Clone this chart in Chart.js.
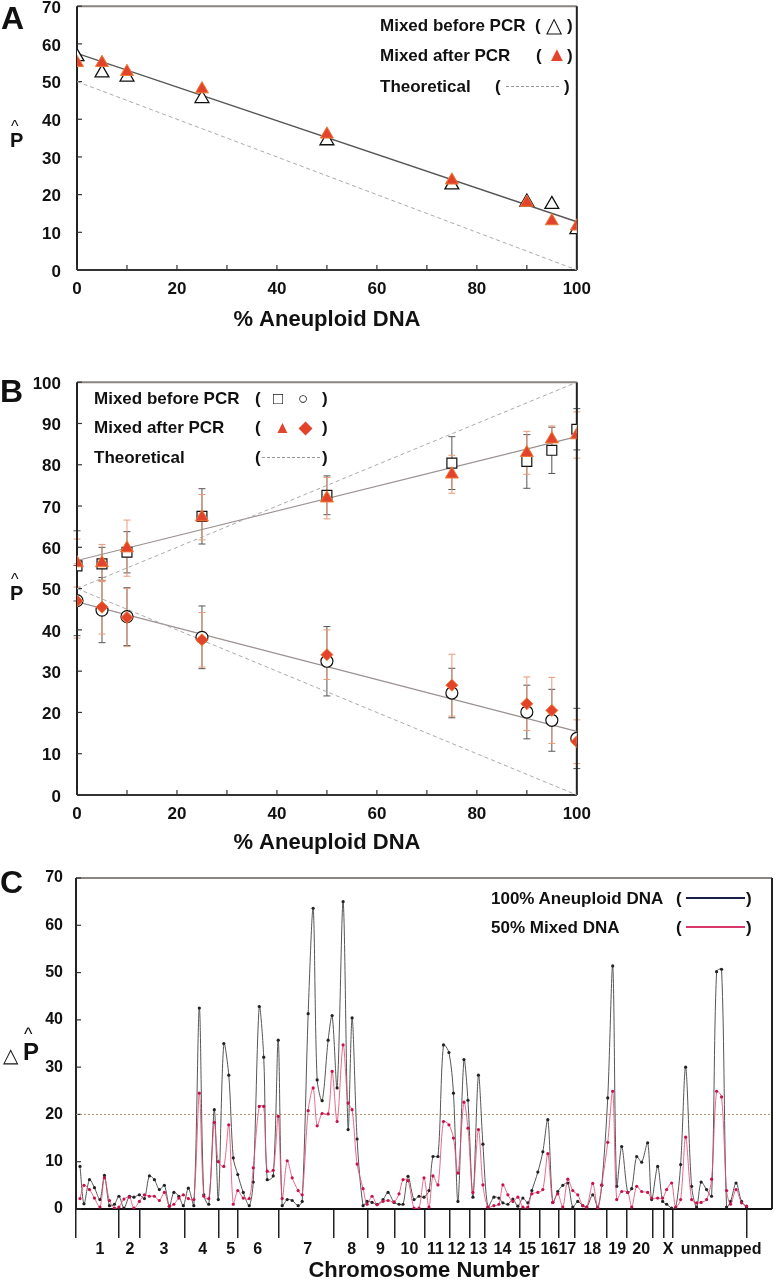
<!DOCTYPE html>
<html lang="en">
<head>
<meta charset="UTF-8">
<title>Aneuploid DNA</title>
<script src="https://cdn.jsdelivr.net/npm/chart.js@4"></script>
<style>
  body { margin: 0; background: #fff; overflow: hidden; }
  #page { position: relative; width: 776px; height: 1280px; overflow: hidden; }
  .box { position: absolute; }
  .t { position: absolute; font: bold 17px 'Liberation Sans', Arial, sans-serif; line-height: 1;
       transform: translateY(-50%); white-space: nowrap; color: #111; }
  .letter { font-size: 32px; }
  .red { color: #e4432b; }
  .dash { position: absolute; height: 0; border-top: 1px dashed #999; }
  .solid { position: absolute; height: 2px; margin-top: -1px; }
</style>
</head>
<body>
<div id="page">
  <div class="box" style="left:0;top:-20px"><canvas id="chartA" width="600" height="360"></canvas></div>
  <div class="box" style="left:0;top:356px"><canvas id="chartB" width="600" height="507"></canvas></div>
  <div class="box" style="left:0;top:853px"><canvas id="chartC" width="776" height="431"></canvas></div>

  <!-- panel letters and axis labels -->
  <div class="t letter" style="left:1px;top:18px">A</div>
  <div class="t letter" style="left:0;top:391px">B</div>
  <div class="t letter" style="left:0;top:882px">C</div>

  <div class="t" style="left:11px;top:127px;font-size:16px;font-weight:normal">^</div>
  <div class="t" style="left:10px;top:140px;font-size:20px">P</div>
  <div class="t" style="left:11px;top:580px;font-size:16px;font-weight:normal">^</div>
  <div class="t" style="left:10px;top:593px;font-size:20px">P</div>
  <div class="t" style="left:3px;top:1055px;font-size:20px;font-weight:normal">△</div>
  <div class="t" style="left:24px;top:1034px;font-size:18px;font-weight:normal">^</div>
  <div class="t" style="left:23px;top:1052px;font-size:24px">P</div>

  <!-- legend A -->
  <div class="t" style="left:380px;top:25px">Mixed before PCR</div>
  <div class="t" style="left:535px;top:25px">(</div>
  <div class="t" style="left:546px;top:24px;font-size:21px;font-weight:normal">△</div>
  <div class="t" style="left:567px;top:25px">)</div>
  <div class="t" style="left:380px;top:55px">Mixed after PCR</div>
  <div class="t" style="left:536px;top:55px">(</div>
  <div class="t red" style="left:547px;top:54px;font-size:20px">▲</div>
  <div class="t" style="left:567px;top:55px">)</div>
  <div class="t" style="left:380px;top:86px">Theoretical</div>
  <div class="t" style="left:495px;top:86px">(</div>
  <div class="dash" style="left:506px;width:53px;top:86px"></div>
  <div class="t" style="left:564px;top:86px">)</div>

  <!-- legend B -->
  <div class="t" style="left:94px;top:398px">Mixed before PCR</div>
  <div class="t" style="left:255px;top:398px">(</div>
  <div class="t" style="left:273px;top:398px;font-weight:normal">□</div>
  <div class="t" style="left:298px;top:398px;font-weight:normal">○</div>
  <div class="t" style="left:322px;top:398px">)</div>
  <div class="t" style="left:94px;top:427px">Mixed after PCR</div>
  <div class="t" style="left:255px;top:427px">(</div>
  <div class="t red" style="left:274px;top:427px">▲</div>
  <div class="t red" style="left:299px;top:427px">◆</div>
  <div class="t" style="left:322px;top:427px">)</div>
  <div class="t" style="left:94px;top:457px">Theoretical</div>
  <div class="t" style="left:255px;top:457px">(</div>
  <div class="dash" style="left:262px;width:58px;top:457px"></div>
  <div class="t" style="left:322px;top:457px">)</div>

  <!-- legend C -->
  <div class="t" style="left:491px;top:898px">100% Aneuploid DNA</div>
  <div class="t" style="left:676px;top:898px">(</div>
  <div class="solid" style="left:686px;width:59px;top:898px;background:#1a1f4a"></div>
  <div class="t" style="left:746px;top:898px">)</div>
  <div class="t" style="left:491px;top:927px">50% Mixed DNA</div>
  <div class="t" style="left:676px;top:927px">(</div>
  <div class="solid" style="left:686px;width:59px;top:927px;background:#d8386a"></div>
  <div class="t" style="left:746px;top:927px">)</div>
</div>

<script>
// ---- panel A ----
const pctAneuploid = [0, 5, 10, 25, 50, 75, 90, 95, 100];
const aBefore = [56.6, 52.3, 51.2, 45.5, 34.3, 22.6, 18.0, 17.4, 10.7];
const aAfter  = [55.0, 55.0, 52.6, 48.0, 36.0, 23.8, 17.9, 13.0, 11.6];
const aFitEnds = [57.5, 12.8];      // fitted line at 0% and 100%
const theoEnds = [50, 0];           // theoretical line at 0% and 100%

// ---- panel B ----
const bSquare  = [55.5, 56.0, 58.8, 67.5, 72.6, 80.4, 80.8, 83.5, 88.6];
const bSquareErr = [8.5, 4.0, 5.0, 6.7, 4.7, 6.4, 6.5, 5.6, 5.0];
const bTriangle = [56.2, 56.2, 59.8, 67.3, 71.9, 77.7, 82.9, 86.2, 87.2];
const bTriangleErr = [5.8, 4.5, 6.8, 5.5, 5.0, 4.6, 5.2, 3.2, 5.6];
const bCircle  = [47.1, 44.8, 43.2, 38.2, 32.4, 24.7, 20.1, 18.1, 13.7];
const bCircleErr = [8.5, 7.9, 7.0, 7.6, 8.4, 6.0, 6.5, 7.5, 7.3];
const bDiamond = [47.0, 45.5, 43.0, 37.6, 34.0, 26.6, 22.1, 20.5, 12.9];
const bDiamondErr = [9.0, 6.5, 7.0, 6.6, 6.0, 7.5, 6.5, 8.0, 5.3];
const bUpFitEnds = [56.8, 86.8];
const bLowFitEnds = [46.8, 15.4];
const bTheoUpEnds = [50, 100];
const bTheoLowEnds = [50, 0];

// ---- panel C ----
const markerPos = [0.8,1.6,2.7,3.7,4.8,5.7,6.7,7.7,8.6,9.6,
  10.7,11.6,12.7,13.7,14.7,15.7,16.7,17.7,18.7,19.6,
  20.6,21.5,22.5,23.6,24.7,25.6,26.6,27.7,28.5,29.6,
  30.6,31.5,32.4,33.5,34.7,35.5,36.7,37.6,38.3,39.5,
  40.5,41.3,42.3,43.3,44.5,45.3,46.5,47.5,48.3,49.3,
  50.5,51.3,52.3,53.5,54.5,55.3,56.3,57.5,58.3,59.3,
  60.3,61.5,62.5,63.7,64.7,65.5,66.5,67.7,68.7,69.7,
  70.7,71.5,72.5,73.6,74.7,75.6,76.5,77.7,78.5,79.5,
  80.6,81.5,82.5,83.7,84.7,85.5,86.5,87.5,88.5,89.5,
  90.5,91.3,92.5,93.5,94.5,95.5,96.5,97.5,98.5,99.5,
  100.5,101.5,102.3,103.5,104.5,105.3,106.5,107.5,108.3,109.3,
  110.5,111.3,112.3,113.3,114.5,115.3,116.5,117.5,118.3,119.3,
  120.1,121.1,122.1,123.3,124.3,125.2,126.3,127.3,128.3,129.3,
  130.3,131.1,132.2,133.3,134.3];
const aneuploid100 = [9.0,1.1,6.2,4.5,2.0,7.1,0.7,1.0,2.7,0.2,
  2.7,2.5,3.0,2.2,7.0,6.2,4.1,5.0,0.6,3.5,
  2.7,0.7,4.4,0.7,42.5,3.0,1.0,21.0,2.0,35.0,
  28.3,10.8,7.3,3.5,0.7,5.7,42.8,32.1,6.2,7.0,
  35.7,0.7,2.0,1.8,0.7,1.6,41.3,63.6,27.3,22.9,
  35.7,40.9,25.6,65.0,16.8,40.4,14.8,0.7,1.6,1.4,
  1.0,2.0,3.5,1.4,1.0,1.0,6.9,2.0,2.7,2.5,
  3.9,11.1,11.1,34.7,33.1,24.5,1.6,31.6,23.0,2.5,
  28.3,13.7,0.4,2.5,2.3,1.3,1.0,2.1,0.6,2.3,
  1.3,3.9,7.8,12.1,18.9,1.4,3.7,5.0,5.5,0.4,
  1.6,0.7,0.4,3.0,0.4,5.0,23.5,51.4,4.8,13.2,
  3.5,4.3,11.1,9.9,14.0,2.0,9.0,1.6,1.0,0.2,
  0.2,9.4,30.0,4.8,0.4,5.7,4.1,2.7,50.2,50.7,
  0.4,1.6,5.5,1.6,0.4];
const mixed50 = [2.2,5.0,4.1,2.3,0.4,6.6,1.8,0.2,0.4,2.1,
  2.5,0.2,1.6,3.0,2.7,2.7,1.8,3.5,0.6,1.0,
  2.3,3.0,2.2,2.0,24.5,2.7,2.2,18.3,10.0,9.0,
  17.8,1.0,3.9,2.3,2.2,8.7,21.7,21.7,8.0,8.2,
  19.6,2.2,10.2,6.6,3.9,3.0,20.8,25.6,17.6,20.2,
  20.1,29.1,18.5,34.7,22.4,21.0,9.5,4.3,1.0,2.7,
  0.9,1.6,1.8,1.5,3.2,6.2,6.0,0.2,0.2,6.6,
  0.4,7.0,5.1,18.5,17.8,15.0,7.6,22.6,17.1,3.5,
  16.8,5.1,0.4,0.7,1.0,5.1,3.0,1.6,2.5,0.4,
  0.4,3.2,3.5,4.1,11.7,1.4,3.2,0.4,6.3,3.9,
  3.0,0.7,0.4,5.4,0.2,5.1,14.1,24.9,2.0,3.7,
  3.5,0.4,4.8,3.7,3.5,2.3,2.3,2.3,4.1,5.5,
  0.4,2.0,15.2,2.0,1.3,1.4,2.0,6.3,24.9,23.7,
  3.9,1.0,4.1,1.3,0.6];
const chromBounds = [0,8.6,12.8,21.8,28.6,32.4,40.6,51.6,58.4,63.8,69.8,74.8,78.8,81.8,
  88.8,92.8,96.6,99.8,106.4,110.4,115.6,117.8,119.6,134.4];
const chromLabels = ['1','2','3','4','5','6','7','8','9','10','11','12','13','14','15','16',
  '17','18','19','20','X','unmapped'];
const chromLabelPos = [4.8,10.8,17.6,25.4,31,36.4,46.4,55.2,61,66.8,72,76.2,80.6,85.4,90.4,
  94.8,98.4,103.4,108.4,113.2,118.6,129.2];
const cMax = 139.4;
const threshold = 20;

Chart.defaults.font.family = "'Liberation Sans', Arial, sans-serif";
Chart.defaults.font.weight = 'bold';
Chart.defaults.color = '#111';

const pts = (xs, ys) => xs.map((x, i) => ({x: x, y: ys[i]}));
const ends = (e, xMax) => [{x: 0, y: e[0]}, {x: xMax, y: e[1]}];

// frame round the plot, plus the small inward ticks
const framePlugin = {
  id: 'frame',
  beforeDatasetsDraw(chart, args, opts) {
    const {ctx, chartArea: a, scales} = chart;
    const line = (x1, y1, x2, y2) => { ctx.beginPath(); ctx.moveTo(x1, y1); ctx.lineTo(x2, y2); ctx.stroke(); };
    ctx.save();
    ctx.lineWidth = 2;
    ctx.strokeStyle = '#8a8580';
    line(a.left, a.top, a.right, a.top);
    ctx.strokeStyle = '#222';
    line(a.left, a.top, a.left, a.bottom);
    line(a.right, a.top, a.right, a.bottom);
    ctx.strokeStyle = opts.bottomColor || '#333';
    line(a.left, a.bottom, a.right, a.bottom);
    ctx.lineWidth = 1.2;
    ctx.strokeStyle = '#333';
    scales.y.ticks.forEach(t => {
      const py = scales.y.getPixelForValue(t.value);
      line(a.left, py, a.left + 5, py);
    });
    if (opts.xTicks) {
      scales.x.ticks.forEach(t => {
        const px = scales.x.getPixelForValue(t.value);
        line(px, a.bottom, px, a.bottom - 5);
      });
    }
    ctx.restore();
  }
};

// vertical error bars, drawn from dataset.errors
const errorBarsPlugin = {
  id: 'errorBars',
  beforeDatasetsDraw(chart) {
    const {ctx, scales: {x, y}} = chart;
    chart.data.datasets.forEach(ds => {
      if (!ds.errors) return;
      ctx.save();
      ctx.strokeStyle = ds.errorColor;
      ctx.lineWidth = 1;
      ds.data.forEach((p, i) => {
        const px = x.getPixelForValue(p.x);
        const top = y.getPixelForValue(p.y + ds.errors[i]);
        const bot = y.getPixelForValue(p.y - ds.errors[i]);
        ctx.beginPath();
        ctx.moveTo(px, top); ctx.lineTo(px, bot);
        ctx.moveTo(px - 3.5, top); ctx.lineTo(px + 3.5, top);
        ctx.moveTo(px - 3.5, bot); ctx.lineTo(px + 3.5, bot);
        ctx.stroke();
      });
      ctx.restore();
    });
  }
};

function pctAxes(yMax, xHeight) {
  return {
    x: {
      type: 'linear', min: 0, max: 100,
      ticks: { stepSize: 10, autoSkip: false, maxRotation: 0, padding: 9,
               font: {size: 17, weight: 'bold'},
               callback: v => (v % 20 === 0 ? v : '') },
      grid: { display: false, drawTicks: false },
      border: { display: false },
      title: { display: true, text: '% Aneuploid DNA', font: {size: 22, weight: 'bold'},
               padding: {top: 0, bottom: 0} },
      afterFit: s => { s.height = xHeight; }
    },
    y: {
      min: 0, max: yMax,
      ticks: { stepSize: 10, padding: 16, labelOffset: 2, font: {size: 17, weight: 'bold'} },
      grid: { display: false, drawTicks: false },
      border: { display: false },
      afterFit: s => { s.width = 77; }
    }
  };
}

const commonOpts = {
  responsive: false,
  animation: false,
  plugins: { legend: { display: false }, tooltip: { enabled: false }, frame: { xTicks: true } }
};

// ---- chart A ----
new Chart(document.getElementById('chartA'), {
  type: 'scatter',
  data: {
    datasets: [
      { type: 'line', data: ends(aFitEnds, 100), borderColor: '#555', borderWidth: 1.4, pointRadius: 0, order: 5 },
      { type: 'line', data: ends(theoEnds, 100), borderColor: '#aaa', borderDash: [4, 3], borderWidth: 1, pointRadius: 0, order: 4 },
      { data: pts(pctAneuploid, aBefore), pointStyle: 'triangle', pointRadius: 8,
        backgroundColor: '#fff', borderColor: '#111', borderWidth: 1.3, order: 3 },
      { data: pts(pctAneuploid, aAfter), pointStyle: 'triangle', pointRadius: 7.5,
        backgroundColor: '#e4432b', borderColor: '#ee7a36', borderWidth: 1, order: 2 }
    ]
  },
  options: Object.assign({}, commonOpts, {
    layout: { padding: { top: 25, right: 22, left: 0, bottom: 7 } },
    scales: pctAxes(70, 63)
  }),
  plugins: [framePlugin]
});

// ---- chart B ----
new Chart(document.getElementById('chartB'), {
  type: 'scatter',
  data: {
    datasets: [
      { type: 'line', data: ends(bUpFitEnds, 100), borderColor: '#9a9090', borderWidth: 1.2, pointRadius: 0, order: 9 },
      { type: 'line', data: ends(bLowFitEnds, 100), borderColor: '#9a9090', borderWidth: 1.2, pointRadius: 0, order: 9 },
      { type: 'line', data: ends(bTheoUpEnds, 100), borderColor: '#aaa', borderDash: [4, 3], borderWidth: 1, pointRadius: 0, order: 8 },
      { type: 'line', data: ends(bTheoLowEnds, 100), borderColor: '#aaa', borderDash: [4, 3], borderWidth: 1, pointRadius: 0, order: 8 },
      { data: pts(pctAneuploid, bSquare), errors: bSquareErr, errorColor: '#555',
        pointStyle: 'rect', pointRadius: 7, backgroundColor: '#fff', borderColor: '#111', borderWidth: 1.2, order: 4 },
      { data: pts(pctAneuploid, bCircle), errors: bCircleErr, errorColor: '#555',
        pointStyle: 'circle', pointRadius: 6, backgroundColor: '#fff', borderColor: '#111', borderWidth: 1.2, order: 4 },
      { data: pts(pctAneuploid, bTriangle), errors: bTriangleErr, errorColor: '#e99a78',
        pointStyle: 'triangle', pointRadius: 7.5, backgroundColor: '#e4432b', borderColor: '#ee7a36', borderWidth: 1, order: 2 },
      { data: pts(pctAneuploid, bDiamond), errors: bDiamondErr, errorColor: '#e99a78',
        pointStyle: 'rectRot', pointRadius: 6, backgroundColor: '#e4432b', borderColor: '#ee7a36', borderWidth: 1, order: 2 }
    ]
  },
  options: Object.assign({}, commonOpts, {
    layout: { padding: { top: 25, right: 22, left: 0, bottom: 7 } },
    scales: pctAxes(100, 61)
  }),
  plugins: [errorBarsPlugin, framePlugin]
});

// ---- chart C ----
new Chart(document.getElementById('chartC'), {
  type: 'line',
  data: {
    datasets: [
      { data: [{x: 0, y: threshold}, {x: cMax, y: threshold}], borderColor: '#b09070', borderDash: [2, 2],
        borderWidth: 1, pointRadius: 0, tension: 0, order: 5 },
      { data: pts(markerPos, aneuploid100), borderColor: '#555', borderWidth: 1, tension: 0.3,
        pointRadius: 1.6, pointBackgroundColor: '#222', pointBorderWidth: 0, order: 3 },
      { data: pts(markerPos, mixed50), borderColor: 'rgba(225,80,120,0.85)', borderWidth: 1, tension: 0.3,
        pointRadius: 1.6, pointBackgroundColor: '#c8104a', pointBorderWidth: 0, order: 2 }
    ]
  },
  options: Object.assign({}, commonOpts, {
    layout: { padding: { top: 25, right: 3, left: 0, bottom: 0 } },
    plugins: { legend: { display: false }, tooltip: { enabled: false }, frame: { xTicks: false, bottomColor: '#111' } },
    scales: {
      x: {
        type: 'linear', min: 0, max: cMax, weight: 0,
        afterBuildTicks: s => { s.ticks = chromBounds.map(v => ({value: v})); },
        ticks: { display: false },
        grid: { display: true, drawOnChartArea: false, drawTicks: true, tickLength: 29, color: '#222', lineWidth: 1.5 },
        border: { display: false },
        afterFit: s => { s.height = 29; }
      },
      x2: {
        type: 'linear', position: 'bottom', min: 0, max: cMax, weight: 1,
        afterBuildTicks: s => { s.ticks = chromLabelPos.map(v => ({value: v})); },
        ticks: { autoSkip: false, maxRotation: 0, padding: 2, font: {size: 16, weight: 'bold'},
                 callback: (v, i) => chromLabels[i] },
        grid: { display: false, drawTicks: false },
        border: { display: false },
        title: { display: true, text: 'Chromosome Number', font: {size: 22, weight: 'bold'}, padding: {top: 0, bottom: 0} },
        afterFit: s => { s.height = 46; }
      },
      y: {
        min: 0, max: 70,
        ticks: { stepSize: 10, padding: 13, font: {size: 16, weight: 'bold'} },
        grid: { display: false, drawTicks: false },
        border: { display: false },
        afterFit: s => { s.width = 76; }
      }
    }
  }),
  plugins: [framePlugin]
});
</script>
</body>
</html>
